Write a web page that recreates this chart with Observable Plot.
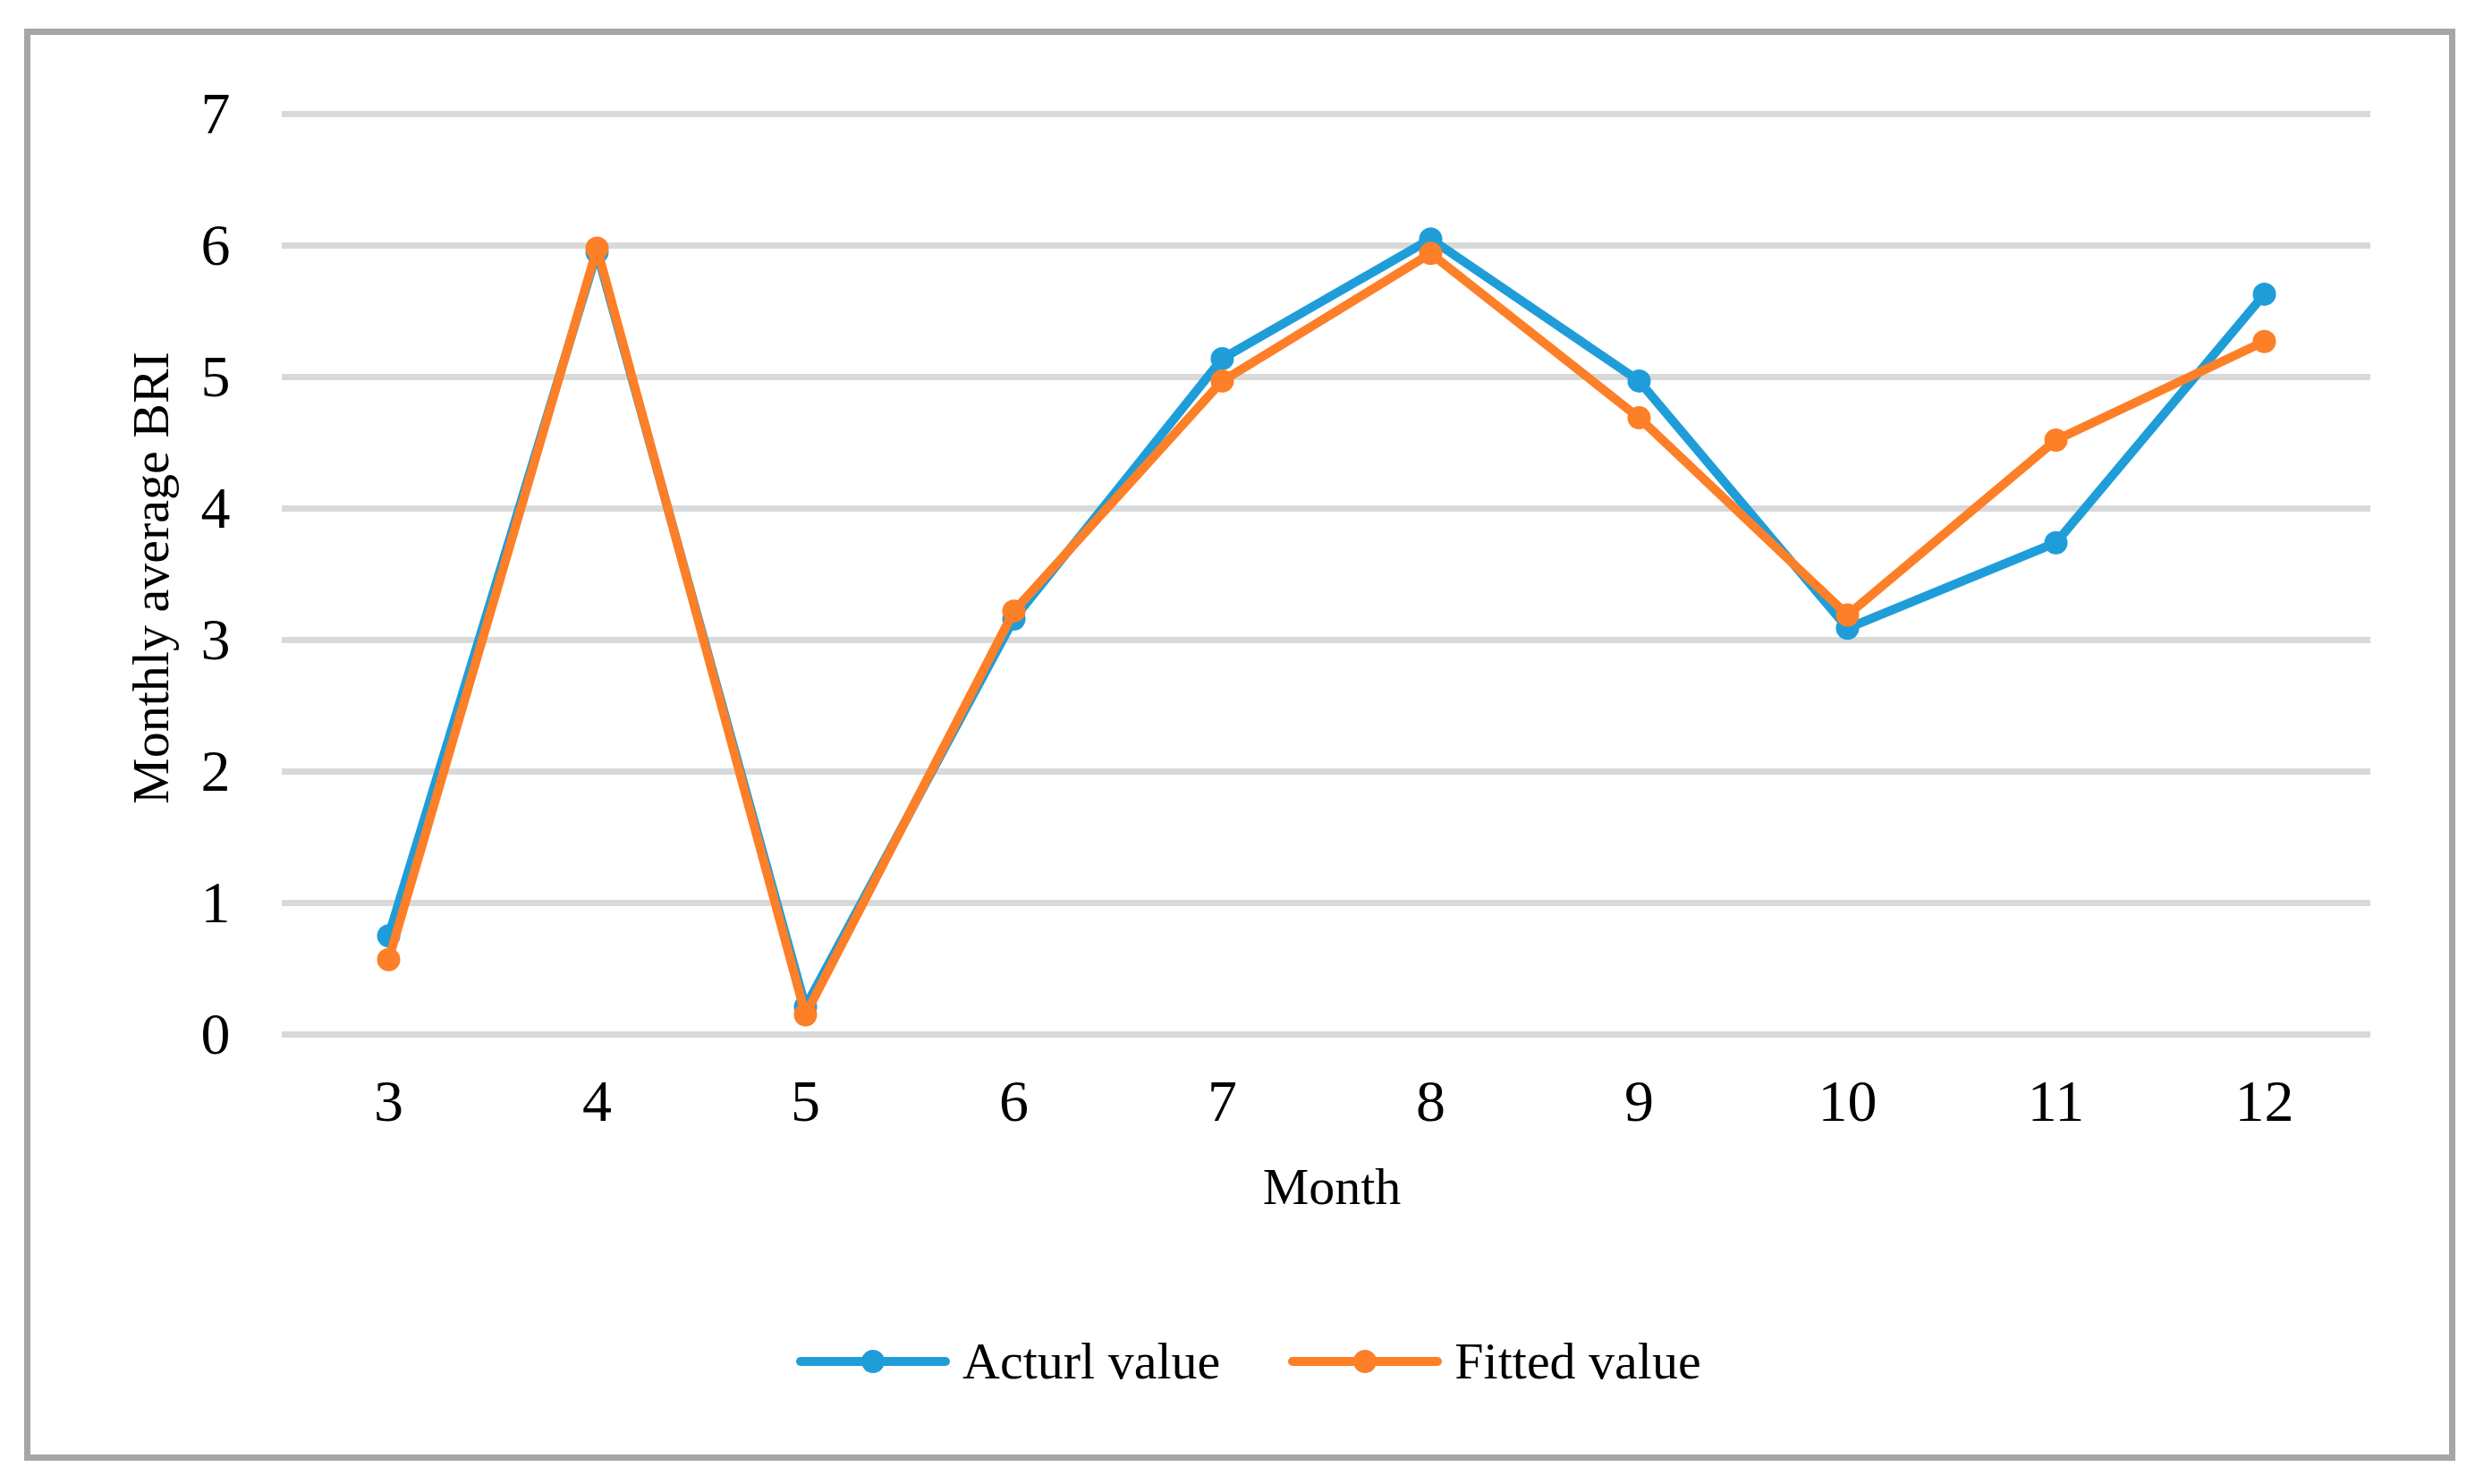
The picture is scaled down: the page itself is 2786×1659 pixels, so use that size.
<!DOCTYPE html>
<html>
<head>
<meta charset="utf-8">
<script src="https://cdn.jsdelivr.net/npm/d3@7"></script>
<script src="https://cdn.jsdelivr.net/npm/@observablehq/plot@0.6"></script>
<style>
  html, body { margin: 0; padding: 0; background: #fff; }
  #page { position: relative; width: 2786px; height: 1659px; overflow: hidden; background: #fff;
          font-family: "Liberation Serif", "Times New Roman", serif; color: #000; }
  #frame { position: absolute; left: 27px; top: 32px; width: 2718px; height: 1601px;
           border: 7px solid #a6a6a6; box-sizing: border-box; }
  #chart { position: absolute; left: 0; top: 0; }
  #legend { position: absolute; left: 890px; top: 1492px; height: 60px; display: flex; align-items: center; }
  .item { display: flex; align-items: center; }
  .item svg { display: block; }
  .item span { font-size: 58px; margin-left: 14px; line-height: 60px; }
</style>
</head>
<body>
<div id="page">
  <div id="frame"></div>
  <div id="chart"></div>
  <div id="legend"></div>
</div>
<script>
const months = [3, 4, 5, 6, 7, 8, 9, 10, 11, 12];
const actual = [0.75, 5.95, 0.21, 3.16, 5.14, 6.05, 4.97, 3.09, 3.74, 5.63];
const fitted = [0.57, 5.98, 0.15, 3.22, 4.97, 5.94, 4.69, 3.19, 4.52, 5.27];
const yTicks = [0, 1, 2, 3, 4, 5, 6, 7];
const seriesNames = ["Acturl value", "Fitted value"];
const seriesColors = ["#1f9dd9", "#fd7f27"];
const xTitle = "Month";
const yTitle = "Monthly average BRI";

const rows = [];
months.forEach((m, i) => rows.push({month: m, value: actual[i], series: seriesNames[0]}));
months.forEach((m, i) => rows.push({month: m, value: fitted[i], series: seriesNames[1]}));
const bySeries = name => rows.filter(d => d.series === name);

const W = 2786, H = 1420;
const marks = [
  Plot.ruleY(yTicks, {stroke: "#d9d9d9", strokeWidth: 7}),
  Plot.axisY({ticks: yTicks, tickFormat: d => String(d), tickSize: 0, tickPadding: 58, label: null, fontSize: 66}),
  Plot.axisX({ticks: months, tickFormat: d => String(d), tickSize: 0, tickPadding: 50, label: null, fontSize: 66}),
  Plot.text([xTitle], {frameAnchor: "bottom", textAnchor: "middle", dx: 6, dy: 189, fontSize: 58}),
  Plot.text([yTitle], {frameAnchor: "left", textAnchor: "middle", dx: -146, dy: 4, rotate: -90, fontSize: 58})
];
seriesNames.forEach(name => {
  marks.push(Plot.line(bySeries(name), {x: "month", y: "value", stroke: "series", strokeWidth: 10, strokeLinejoin: "round", strokeLinecap: "round"}));
  marks.push(Plot.dot(bySeries(name), {x: "month", y: "value", fill: "series", r: 13, stroke: "none"}));
});

const chart = Plot.plot({
  width: W,
  height: H,
  marginTop: 127,
  marginBottom: H - 1156,
  marginLeft: 315,
  marginRight: W - 2650,
  style: {fontFamily: '"Liberation Serif", "Times New Roman", serif', color: "#000", background: "transparent"},
  x: {type: "point", domain: months, padding: 0.5, align: 0.5},
  y: {domain: [0, 7]},
  color: {domain: seriesNames, range: seriesColors},
  marks
});
document.getElementById("chart").appendChild(chart);

const legend = document.getElementById("legend");
seriesNames.forEach((name, i) => {
  const item = document.createElement("div");
  item.className = "item";
  if (i > 0) item.style.marginLeft = "76px";
  const ns = "http://www.w3.org/2000/svg";
  const s = document.createElementNS(ns, "svg");
  s.setAttribute("width", 172); s.setAttribute("height", 30);
  const l = document.createElementNS(ns, "line");
  l.setAttribute("x1", 5); l.setAttribute("x2", 167); l.setAttribute("y1", 15); l.setAttribute("y2", 15);
  l.setAttribute("stroke", seriesColors[i]); l.setAttribute("stroke-width", 10); l.setAttribute("stroke-linecap", "round");
  const c = document.createElementNS(ns, "circle");
  c.setAttribute("cx", 86); c.setAttribute("cy", 15); c.setAttribute("r", 13); c.setAttribute("fill", seriesColors[i]);
  s.appendChild(l); s.appendChild(c);
  const t = document.createElement("span");
  t.textContent = name;
  item.appendChild(s); item.appendChild(t);
  legend.appendChild(item);
});
</script>
</body>
</html>
